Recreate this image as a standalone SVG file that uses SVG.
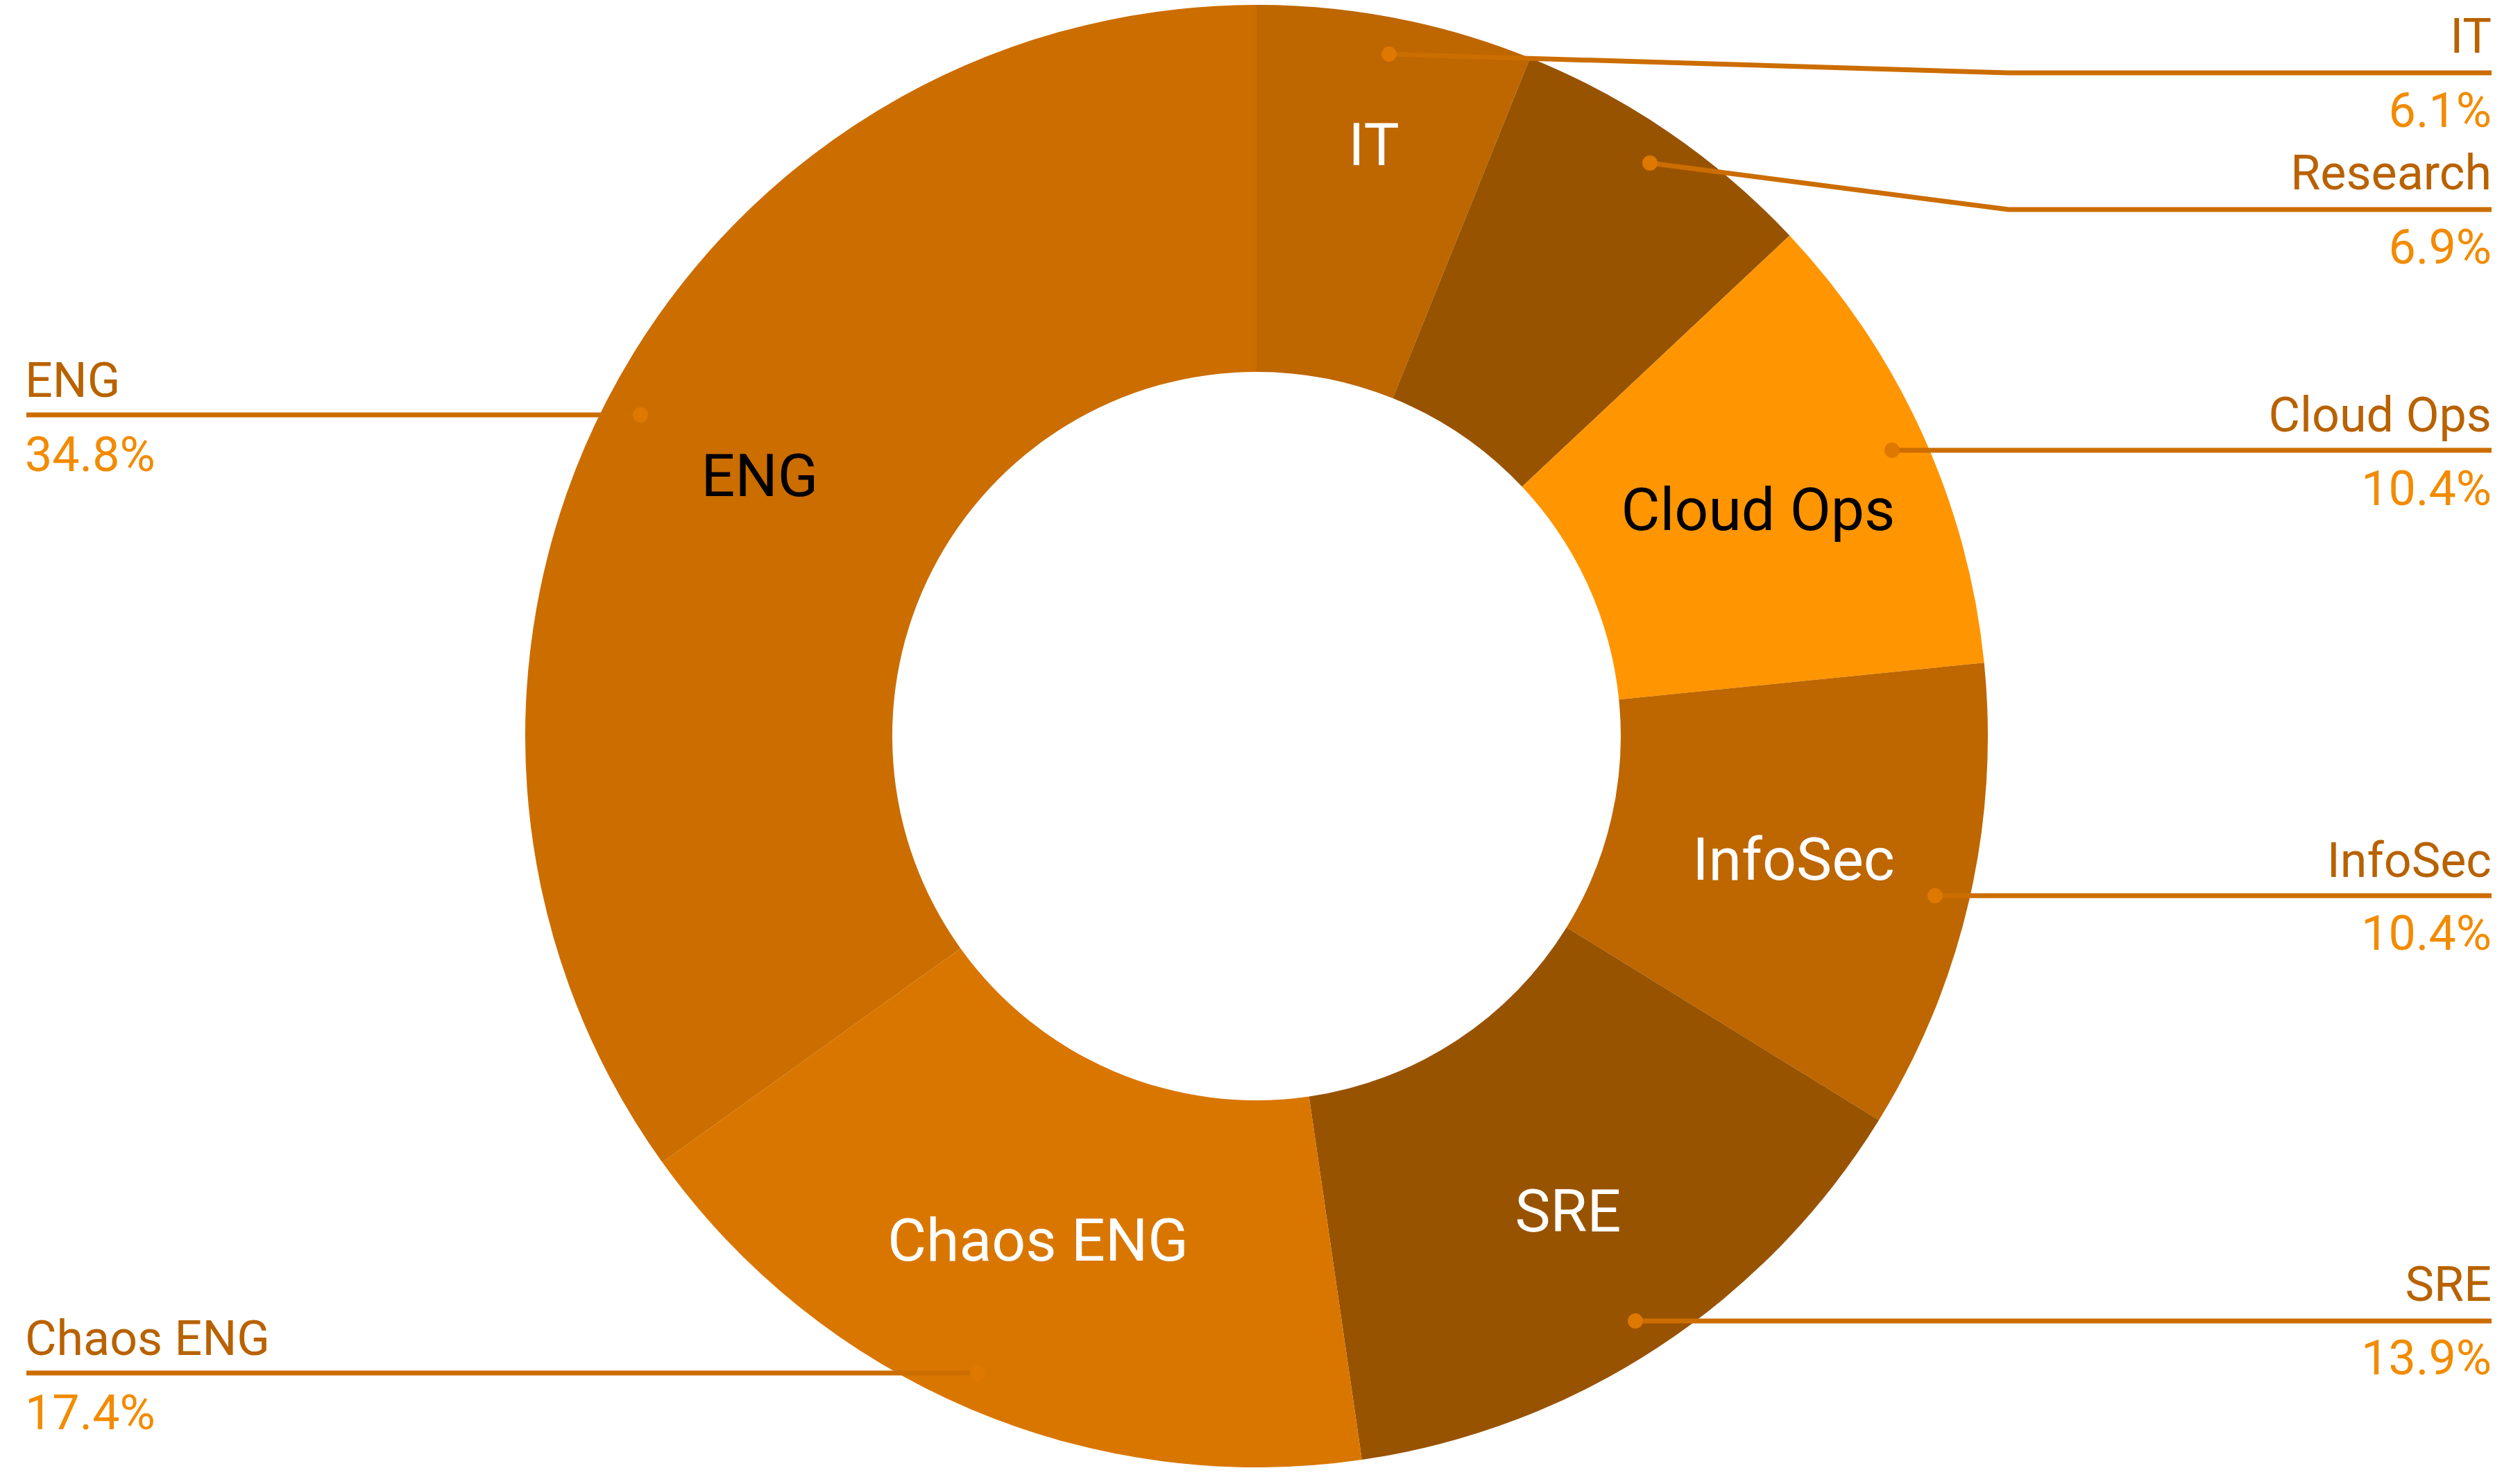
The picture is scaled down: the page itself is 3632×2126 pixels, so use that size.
<svg xmlns="http://www.w3.org/2000/svg" width="3632" height="2126" viewBox="0 0 3632 2126">
<style>
text{font-family:Roboto,"Liberation Sans",sans-serif;}
.in{font-size:86px;text-anchor:middle;}
.w{fill:#ffffff;}
.k{fill:#000000;}
.nm{font-size:70px;fill:#b86200;}
.pc{font-size:70px;fill:#f28b00;}
.r{text-anchor:end;}
.lead{fill:none;stroke:#cc6d00;stroke-width:7;stroke-linejoin:round;}
.dot{fill:#de7800;}
</style>
<rect width="3632" height="2126" fill="#ffffff"/>
<g id="slice-it">
<path d="M1811,7 A1054,1054 0 0 1 2205.2,83.5 L2007.4,574.1 A525,525 0 0 0 1811,536 Z" fill="#be6600"/>
<text class="in w" x="1980" y="238">IT</text>
</g>
<g id="slice-research">
<path d="M2205.2,83.5 A1054,1054 0 0 1 2579.3,339.5 L2193.7,701.6 A525,525 0 0 0 2007.4,574.1 Z" fill="#985300"/>
</g>
<g id="slice-cloudops">
<path d="M2579.3,339.5 A1054,1054 0 0 1 2859.7,955.2 L2333.3,1008.3 A525,525 0 0 0 2193.7,701.6 Z" fill="#ff9500"/>
<text class="in k" x="2534" y="764">Cloud Ops</text>
</g>
<g id="slice-infosec">
<path d="M2859.7,955.2 A1054,1054 0 0 1 2708,1614.5 L2257.8,1336.7 A525,525 0 0 0 2333.3,1008.3 Z" fill="#be6600"/>
<text class="in w" x="2585" y="1268">InfoSec</text>
</g>
<g id="slice-sre">
<path d="M2708,1614.5 A1054,1054 0 0 1 1962.8,2104 L1886.6,1580.5 A525,525 0 0 0 2257.8,1336.7 Z" fill="#985300"/>
<text class="in w" x="2260" y="1775">SRE</text>
</g>
<g id="slice-chaoseng">
<path d="M1962.8,2104 A1054,1054 0 0 1 954.5,1675.3 L1384.4,1367 A525,525 0 0 0 1886.6,1580.5 Z" fill="#d97600"/>
<text class="in w" x="1496" y="1817">Chaos ENG</text>
</g>
<g id="slice-eng">
<path d="M954.5,1675.3 A1054,1054 0 0 1 1811,7 L1811,536 A525,525 0 0 0 1384.4,1367 Z" fill="#cc6d00"/>
<text class="in k" x="1095" y="715">ENG</text>
</g>
<g id="connectors">
<polyline class="lead" points="2002,78 2895,105 3591,105"/>
<polyline class="lead" points="2378,235 2895,302 3591,302"/>
<polyline class="lead" points="2727,649 3591,649"/>
<polyline class="lead" points="2789,1291 3591,1291"/>
<polyline class="lead" points="2357,1904 3591,1904"/>
<polyline class="lead" points="1409,1979 38,1979"/>
<polyline class="lead" points="923,598 38,598"/>
<circle class="dot" cx="2002" cy="78" r="11"/>
<circle class="dot" cx="2378" cy="235" r="11"/>
<circle class="dot" cx="2727" cy="649" r="11"/>
<circle class="dot" cx="2789" cy="1291" r="11"/>
<circle class="dot" cx="2357" cy="1904" r="11"/>
<circle class="dot" cx="1409" cy="1979" r="11"/>
<circle class="dot" cx="923" cy="598" r="11"/>
</g>
<g id="legend-it">
<text class="nm r" x="3591" y="76">IT</text>
<text class="pc r" x="3591" y="183">6.1%</text>
</g>
<g id="legend-research">
<text class="nm r" x="3591" y="273">Research</text>
<text class="pc r" x="3591" y="380">6.9%</text>
</g>
<g id="legend-cloudops">
<text class="nm r" x="3591" y="622">Cloud Ops</text>
<text class="pc r" x="3591" y="728">10.4%</text>
</g>
<g id="legend-infosec">
<text class="nm r" x="3591" y="1264">InfoSec</text>
<text class="pc r" x="3591" y="1369">10.4%</text>
</g>
<g id="legend-sre">
<text class="nm r" x="3591" y="1875">SRE</text>
<text class="pc r" x="3591" y="1981">13.9%</text>
</g>
<g id="legend-chaoseng">
<text class="nm" x="36" y="1953">Chaos ENG</text>
<text class="pc" x="36" y="2060">17.4%</text>
</g>
<g id="legend-eng">
<text class="nm" x="36" y="572">ENG</text>
<text class="pc" x="36" y="679">34.8%</text>
</g>
</svg>
